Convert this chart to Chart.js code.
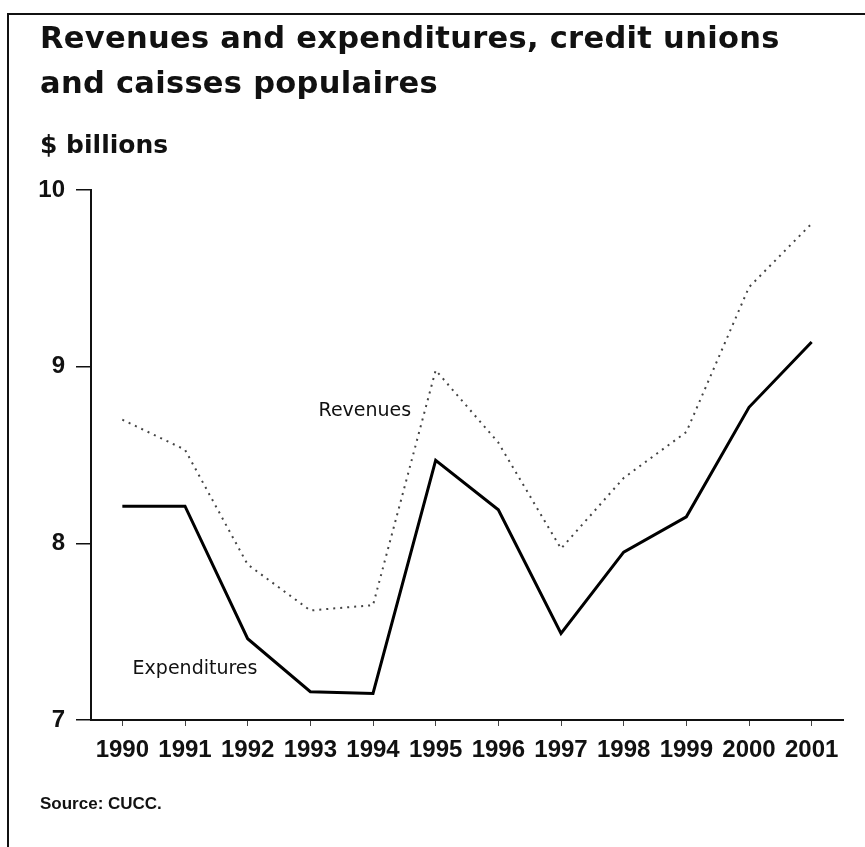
<!DOCTYPE html>
<html>
<head>
<meta charset="utf-8">
<script src="https://cdn.jsdelivr.net/npm/chart.js@4.4.1/dist/chart.umd.min.js"></script>
<style>
  html, body { margin: 0; padding: 0; background: #fff; }
  body { width: 865px; height: 847px; position: relative; overflow: hidden; }
  #frame { position: absolute; left: 7px; top: 13px; width: 870px; height: 850px;
           border-top: 2px solid #111; border-left: 2px solid #111; }
  #chart { position: absolute; left: 0; top: 0; }
  .txt { position: absolute; color: #111; white-space: nowrap; }
  #title { left: 40px; top: 15px; font: bold 30.5px "DejaVu Sans"; line-height: 45px; letter-spacing: 0.3px; }
  #unit { left: 40px; top: 133px; font: bold 25px "DejaVu Sans"; line-height: 24px; }
  #source { left: 40px; top: 795px; font: bold 17px "Liberation Sans"; line-height: 17px; }
</style>
</head>
<body>
<canvas id="chart" width="865" height="847"></canvas>
<div id="frame"></div>
<div class="txt" id="title">Revenues and expenditures, credit unions<br>and caisses populaires</div>
<div class="txt" id="unit">$ billions</div>
<div class="txt" id="source">Source: CUCC.</div>
<script>
const years = ['1990', '1991', '1992', '1993', '1994', '1995', '1996', '1997', '1998', '1999', '2000', '2001'];
const revenues = [8.70, 8.53, 7.88, 7.62, 7.65, 8.98, 8.57, 7.97, 8.37, 8.63, 9.45, 9.81];
const expenditures = [8.21, 8.21, 7.46, 7.16, 7.15, 8.47, 8.19, 7.49, 7.95, 8.15, 8.77, 9.14];
const seriesNames = ['Revenues', 'Expenditures'];

const tickFont = { family: 'Liberation Sans', size: 24, weight: 'bold' };

// series names written on the plot, next to their lines
const lineLabels = {
    id: 'lineLabels',
    afterDatasetsDraw(chart) {
        const { ctx, scales: { x, y } } = chart;
        ctx.save();
        ctx.font = '19px "DejaVu Sans"';
        ctx.fillStyle = '#111';
        ctx.textAlign = 'center';
        ctx.textBaseline = 'middle';
        ctx.fillText(seriesNames[0], x.getPixelForValue(3.87), y.getPixelForValue(8.75));
        ctx.fillText(seriesNames[1], x.getPixelForValue(1.16), y.getPixelForValue(7.29));
        ctx.restore();
    }
};

document.addEventListener('DOMContentLoaded', () => {
    const ctx = document.getElementById('chart').getContext('2d');

    new Chart(ctx, {
        type: 'line',
        data: {
            labels: years,
            datasets: [{
                label: seriesNames[0],
                data: revenues,
                borderColor: '#444',
                borderWidth: 2,
                borderDash: [2, 5],
                pointRadius: 0,
                tension: 0,
                fill: false
            }, {
                label: seriesNames[1],
                data: expenditures,
                borderColor: '#000',
                borderWidth: 3,
                pointRadius: 0,
                tension: 0,
                fill: false
            }]
        },
        options: {
            responsive: false,
            devicePixelRatio: 1,
            animation: false,
            layout: {
                padding: { top: 190, right: 22, bottom: 67, left: 0 }
            },
            plugins: {
                legend: { display: false },
                tooltip: { enabled: false }
            },
            scales: {
                x: {
                    offset: true,
                    grid: { drawOnChartArea: false, tickLength: 6, color: '#444', lineWidth: 1 },
                    border: { color: '#111', width: 2 },
                    ticks: { font: tickFont, color: '#111', padding: 10, maxRotation: 0, autoSkip: false },
                    afterFit(scale) { scale.height = 60; }
                },
                y: {
                    min: 7,
                    max: 10,
                    grid: { drawOnChartArea: false, tickLength: 15, color: '#111', lineWidth: 1.5 },
                    border: { color: '#111', width: 2 },
                    ticks: { stepSize: 1, font: tickFont, color: '#111', padding: 11 },
                    afterFit(scale) { scale.width = 91; }
                }
            }
        },
        plugins: [lineLabels]
    });
});
</script>
</body>
</html>
